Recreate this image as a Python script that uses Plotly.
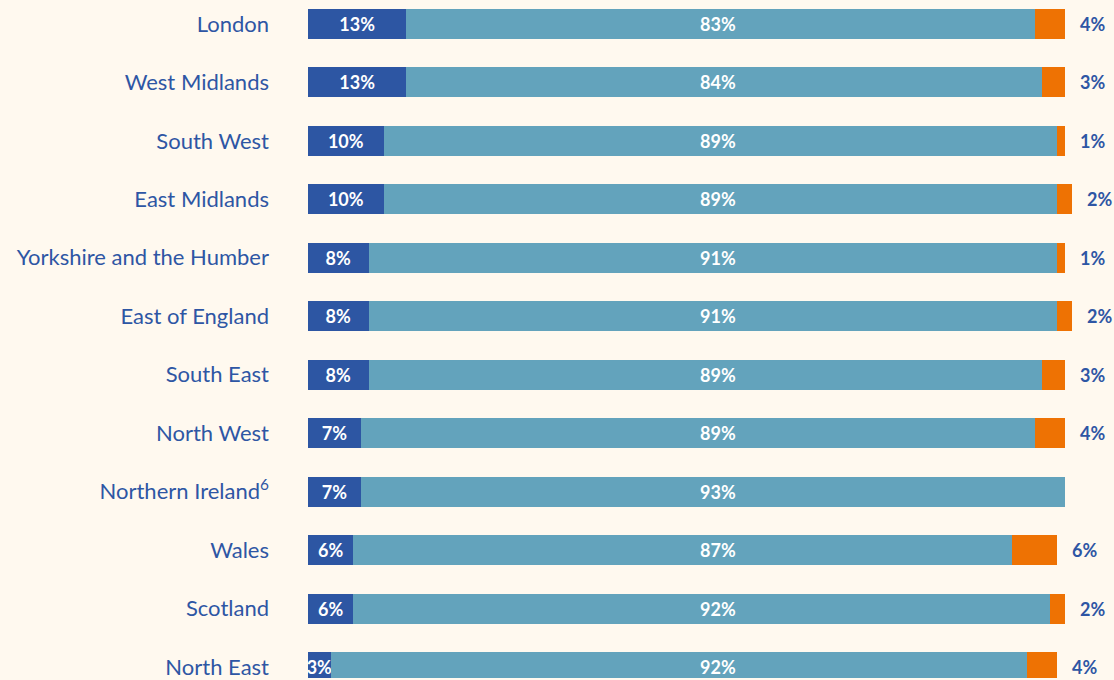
import plotly.graph_objects as go

# ----------------------------------------------------
# Data
# ----------------------------------------------------
regions = [
    "London", "West Midlands", "South West", "East Midlands",
    "Yorkshire and the Humber", "East of England", "South East",
    "North West", "Northern Ireland<sup>6</sup>", "Wales", "Scotland",
    "North East",
]
dark_vals = [13, 13, 10, 10, 8, 8, 8, 7, 7, 6, 6, 3]
mid_vals = [83, 84, 89, 89, 91, 91, 89, 89, 93, 87, 92, 92]
orange_vals = [4, 3, 1, 2, 1, 2, 3, 4, 0, 6, 2, 4]

BG = "#FFF9EF"
DARK = "#2D56A3"
MID = "#63A3BC"
ORANGE = "#EE7203"
TEXT = "#2E56A4"
FONT = "Lato"
MID_LABEL_X = 54.2  # middle labels sit in one column

# ----------------------------------------------------
# Chart
# ----------------------------------------------------
fig = go.Figure()

fig.add_trace(go.Bar(
    y=regions, x=dark_vals, orientation="h",
    marker=dict(color=DARK, line=dict(width=0)),
    width=0.512,
    text=[f"{v}%" for v in dark_vals],
    textposition="inside", insidetextanchor="middle",
    constraintext="none", textangle=0,
    textfont=dict(family=FONT, size=18, color="white", weight="bold"),
    hoverinfo="skip",
))

fig.add_trace(go.Bar(
    y=regions, x=mid_vals, orientation="h",
    marker=dict(color=MID, line=dict(width=0)),
    width=0.512,
    hoverinfo="skip",
))

fig.add_trace(go.Bar(
    y=regions, x=orange_vals, orientation="h",
    marker=dict(color=ORANGE, line=dict(width=0)),
    width=0.512,
    hoverinfo="skip",
))

# middle share labels
for r, m in zip(regions, mid_vals):
    fig.add_annotation(
        x=MID_LABEL_X, y=r, text=f"{m}%",
        xanchor="center", yanchor="middle",
        showarrow=False,
        font=dict(family=FONT, size=18, color="white", weight="bold"),
    )

# orange share labels just past the end of each bar
for r, d, m, o in zip(regions, dark_vals, mid_vals, orange_vals):
    if o == 0:
        continue
    fig.add_annotation(
        x=d + m + o, y=r, text=f"{o}%",
        xanchor="left", yanchor="middle", xshift=13,
        showarrow=False,
        font=dict(family=FONT, size=18, color=TEXT, weight="bold"),
    )

fig.update_layout(
    barmode="stack",
    width=1114, height=680,
    margin=dict(l=308, r=0, t=0, b=0),
    paper_bgcolor=BG, plot_bgcolor=BG,
    showlegend=False,
    font=dict(family=FONT, color=TEXT),
)

fig.update_xaxes(
    range=[0, 106.5], visible=False, showgrid=False, zeroline=False,
)

fig.update_yaxes(
    type="category",
    categoryorder="array", categoryarray=regions,
    range=[11.187, -0.409],
    showgrid=False, zeroline=False, showline=False,
    ticks="", ticklabelstandoff=38,
    tickfont=dict(family=FONT, size=22, color=TEXT),
)

fig.write_html(
    "out.html",
    config={"displayModeBar": False},
    post_script="document.body.style.margin='0';document.body.style.background='" + BG + "';",
)
